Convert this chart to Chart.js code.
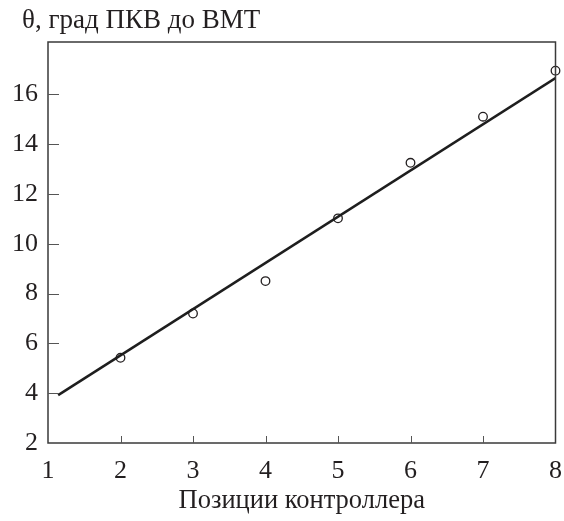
<!DOCTYPE html>
<html>
<head>
<meta charset="utf-8">
<script src="https://cdn.jsdelivr.net/npm/chart.js@4"></script>
<style>
  body { margin: 0; background: #fff; }
  #wrap { width: 564px; height: 521px; }
</style>
</head>
<body>
<div id="wrap"><canvas id="chart"></canvas></div>
<script>
const positions = [2, 3, 4, 5, 6, 7, 8];
const angles = [5.42, 7.2, 8.5, 11.02, 13.25, 15.1, 16.95];
const fitX = [1.14, 8];
const fitY = [3.92, 16.65];
const xTicks = [1, 2, 3, 4, 5, 6, 7, 8];
const yTicks = [2, 4, 6, 8, 10, 12, 14, 16];

const INK = '#231f20';
const FONT = 'Liberation Serif';

// frame and inward tick marks
const framePlugin = {
  id: 'frame',
  afterDraw(chart) {
    const { ctx, chartArea: a, scales } = chart;
    ctx.save();
    ctx.strokeStyle = '#3a3a3a';
    ctx.lineWidth = 1.5;
    ctx.strokeRect(a.left, a.top, a.right - a.left, a.bottom - a.top);
    ctx.lineWidth = 1;
    ctx.strokeStyle = '#555';
    xTicks.slice(1, -1).forEach((v) => {
      const x = Math.round(scales.x.getPixelForValue(v)) + 0.5;
      ctx.beginPath();
      ctx.moveTo(x, a.bottom);
      ctx.lineTo(x, a.bottom - 7);
      ctx.stroke();
    });
    yTicks.slice(1).forEach((v) => {
      const y = Math.round(scales.y.getPixelForValue(v)) + 0.5;
      ctx.beginPath();
      ctx.moveTo(a.left, y);
      ctx.lineTo(a.left + 11, y);
      ctx.stroke();
    });
    ctx.fillStyle = INK;
    ctx.font = '27px ' + FONT;
    ctx.textBaseline = 'alphabetic';
    ctx.fillText('θ, град ПКВ до ВМТ', 22, 28);
    ctx.restore();
  },
};

new Chart(document.getElementById('chart'), {
  type: 'scatter',
  data: {
    datasets: [
      {
        type: 'line',
        data: fitX.map((x, i) => ({ x: x, y: fitY[i] })),
        borderColor: '#1e1e1e',
        borderWidth: 2.5,
        pointRadius: 0,
        fill: false,
      },
      {
        data: positions.map((x, i) => ({ x: x, y: angles[i] })),
        pointRadius: 4.3,
        pointBackgroundColor: '#fff',
        pointBorderColor: INK,
        pointBorderWidth: 1.3,
        clip: false,
      },
    ],
  },
  options: {
    responsive: true,
    maintainAspectRatio: false,
    animation: false,
    layout: { padding: { top: 42, right: 8.5, left: 0, bottom: 0 } },
    plugins: {
      legend: { display: false },
      tooltip: { enabled: false },
    },
    scales: {
      x: {
        type: 'linear',
        min: 1,
        max: 8,
        afterBuildTicks: (scale) => {
          scale.ticks = xTicks.map((v) => ({ value: v }));
        },
        afterFit: (scale) => {
          scale.height = 78;
          scale.paddingLeft = 0;
          scale.paddingRight = 0;
        },
        grid: { display: false, drawTicks: false },
        border: { display: false },
        ticks: {
          padding: 13,
          color: INK,
          font: { family: FONT, size: 26 },
          maxRotation: 0,
        },
        title: {
          display: true,
          text: 'Позиции контроллера',
          color: INK,
          font: { family: FONT, size: 26.5 },
          padding: { top: 0, bottom: 4 },
        },
      },
      y: {
        type: 'linear',
        min: 2,
        max: 18.1,
        afterBuildTicks: (scale) => {
          scale.ticks = yTicks.map((v) => ({ value: v }));
        },
        afterFit: (scale) => {
          scale.width = 48;
        },
        grid: { display: false, drawTicks: false },
        border: { display: false },
        ticks: {
          padding: 10,
          color: INK,
          font: { family: FONT, size: 26 },
        },
      },
    },
  },
  plugins: [framePlugin],
});
</script>
</body>
</html>
